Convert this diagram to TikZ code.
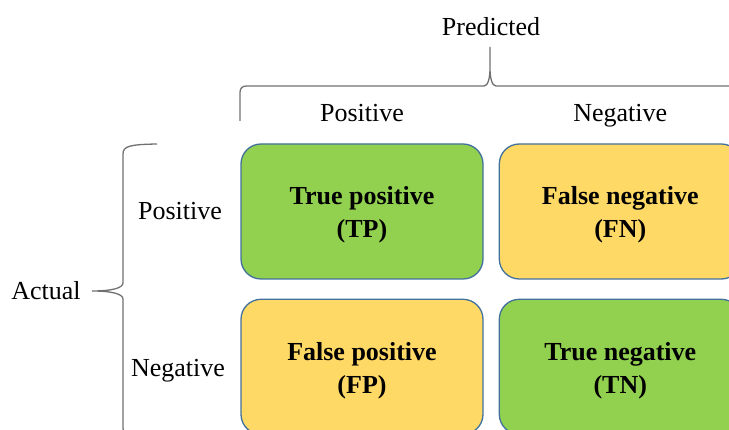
\documentclass[tikz,border=0pt]{standalone}
\usepackage{fontspec}
\setmainfont{Liberation Serif}
\usetikzlibrary{positioning}
\definecolor{hitgreen}{HTML}{92D050}
\definecolor{missyellow}{HTML}{FFD966}
\definecolor{cellline}{HTML}{41719C}
\definecolor{braceline}{HTML}{707070}
\newcommand{\cellstrut}{\rule{0pt}{25pt}}

\begin{document}
\begin{tikzpicture}[x=1pt, y=1pt,
        every node/.style={font=\fontsize{26}{33}\selectfont},
        cell/.style={rectangle, rounded corners=20pt, draw=cellline, line width=1.3pt,
          minimum width=242pt, minimum height=135pt, inner sep=0pt, align=center,
          font=\fontsize{26}{33}\selectfont\bfseries},
        lbl/.style={inner sep=0pt, anchor=base},
        brc/.style={draw=braceline, line width=1.3pt}]

      \useasboundingbox (0,0) rectangle (729,430);
      \clip (0,0) rectangle (729,430);

      \node[cell, fill=hitgreen] (TP) at (362,218.5) {\cellstrut True positive\\(TP)};
      \node[cell, fill=missyellow, right=15pt of TP] (FN) {\cellstrut False negative\\(FN)};
      \node[cell, fill=missyellow, below=19pt of TP] (FP) {\cellstrut False positive\\(FP)};
      \node[cell, fill=hitgreen, right=15pt of FP] (TN) {\cellstrut True negative\\(TN)};

      \node[lbl] (colpos) at (TP |- 0,308) {Positive};
      \node[lbl] (colneg) at (FN |- 0,308) {Negative};
      \node[lbl] (pred) at (491,394) {Predicted};

      \node[lbl] (rowpos) at (180,210) {Positive};
      \node[lbl] (rowneg) at (178,53) {Negative};

      \coordinate (ptip) at (490,383);
      \coordinate (atip) at (92,139);
      \node[lbl] (actual) at (46,130) {Actual};

      \draw[brc] (240,309) -- (240,338) .. controls (240.5,342) and (242,344) .. (247,344)
        -- (484,344) .. controls (488,344) and (490,352) .. (490,362) -- (ptip)
        -- (490,362) .. controls (490,352) and (492,344) .. (496,344)
        -- (733,344) .. controls (738,344) and (740,342) .. (740,338) -- (740,309);
      \draw[brc] (157,286) .. controls (130,285.5) and (123,284) .. (123,276)
        -- (123,147) .. controls (123,142) and (112,139) .. (atip)
        .. controls (112,139) and (123,136) .. (123,131)
        -- (123,2) .. controls (123,-6) and (130,-7.5) .. (157,-8);
    \end{tikzpicture}
\end{document}
